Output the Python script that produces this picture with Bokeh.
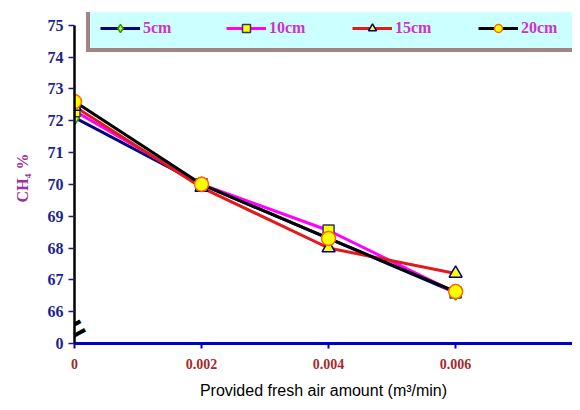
from bokeh.plotting import figure
from bokeh.models import Range1d, Legend, LegendItem, Label, FixedTicker
from bokeh.embed import file_html
from bokeh.resources import INLINE

# ---- data ----
air = [0, 0.002, 0.004, 0.006]
ch4_5cm = [72.1, 70.0, 68.3, 66.6]
ch4_10cm = [72.3, 70.0, 68.55, 66.6]
ch4_15cm = [72.45, 69.9, 68.0, 67.2]
ch4_20cm = [72.6, 70.0, 68.3, 66.63]
series_names = ["5cm", "10cm", "15cm", "20cm"]
x_ticks = [0, 0.002, 0.004, 0.006]
x_tick_labels = ["0", "0.002", "0.004", "0.006"]
y_ticks = [65, 66, 67, 68, 69, 70, 71, 72, 73, 74, 75]
y_tick_labels = ["0", "66", "67", "68", "69", "70", "71", "72", "73", "74", "75"]

p = figure(width=572, height=402, output_backend="svg", toolbar_location=None,
           x_range=Range1d(0, 0.00784), y_range=Range1d(65, 75.4),
           min_border_left=74, min_border_top=12, min_border_bottom=59,
           min_border_right=0)
p.outline_line_color = None
p.xgrid.grid_line_color = None
p.ygrid.grid_line_color = None
p.background_fill_color = "white"

serif = "Liberation Serif"

# y axis
ya = p.yaxis[0]
ya.ticker = FixedTicker(ticks=y_ticks)
ya.major_label_overrides = {t: l for t, l in zip(y_ticks, y_tick_labels)}
ya.bounds = (65, 75)
ya.axis_line_color = "black"
ya.axis_line_width = 2.5
ya.major_tick_line_color = "#1a1a80"
ya.major_tick_line_width = 1.5
ya.major_tick_out = 6
ya.major_tick_in = 0
ya.minor_tick_line_color = None
ya.major_label_text_font = serif
ya.major_label_text_font_style = "bold"
ya.major_label_text_font_size = "16px"
ya.major_label_text_color = "#1f1f8f"
ya.axis_label = "CH\u2084 %"
ya.axis_label_text_font = serif
ya.axis_label_text_font_style = "bold"
ya.axis_label_text_font_size = "16px"
ya.axis_label_text_color = "#993399"
ya.axis_label_standoff = 14

# x axis
xa = p.xaxis[0]
xa.ticker = FixedTicker(ticks=x_ticks)
xa.major_label_overrides = {t: l for t, l in zip(x_ticks, x_tick_labels)}
xa.axis_line_color = "#0000cc"
xa.axis_line_width = 3
xa.major_tick_line_color = "#0000cc"
xa.major_tick_line_width = 2
xa.major_tick_out = 5
xa.major_tick_in = 0
xa.minor_tick_line_color = None
xa.major_label_text_font = serif
xa.major_label_text_font_style = "bold"
xa.major_label_text_font_size = "14px"
xa.major_label_text_color = "#a52a2a"
xa.major_label_standoff = 10
xa.axis_label = "Provided fresh air amount (m\u00b3/min)"
xa.axis_label_text_font = "Liberation Sans"
xa.axis_label_text_font_style = "normal"
xa.axis_label_text_font_size = "16px"
xa.axis_label_text_color = "black"
xa.axis_label_standoff = 10

# series
r1l = p.line(air, ch4_5cm, line_color="#000080", line_width=3)
r1m = p.scatter(air, ch4_5cm, marker="diamond", size=15, fill_color="#ccff33",
                line_color="#339900", line_width=1.5)
r2l = p.line(air, ch4_10cm, line_color="#ff00ff", line_width=3)
r2m = p.scatter(air, ch4_10cm, marker="square", size=11, fill_color="#ffff00",
                line_color="#333366", line_width=1.5)
r3l = p.line(air, ch4_15cm, line_color="#e31a1c", line_width=3)
r3m = p.scatter(air, ch4_15cm, marker="triangle", size=13, fill_color="#ffff00",
                line_color="#000080", line_width=1.5)
r4l = p.line(air, ch4_20cm, line_color="black", line_width=3)
r4m = p.scatter(air, ch4_20cm, marker="circle", size=14, fill_color="#ffff00",
                line_color="#ff6600", line_width=1.5)

items = [LegendItem(label=series_names[0], renderers=[r1l, r1m]),
         LegendItem(label=series_names[1], renderers=[r2l, r2m]),
         LegendItem(label=series_names[2], renderers=[r3l, r3m]),
         LegendItem(label=series_names[3], renderers=[r4l, r4m])]
legend = Legend(items=items, orientation="horizontal", location=(12, 291),
                background_fill_color="#ccffff", background_fill_alpha=1,
                border_line_color="#7a0a0a", border_line_width=4,
                label_text_font=serif, label_text_font_style="bold",
                label_text_font_size="16px", label_text_color="#cc33cc",
                glyph_width=40, glyph_height=20, label_standoff=3,
                label_width=80, spacing=3, padding=10, margin=0)
p.add_layout(legend, "center")

# axis break mark
p.add_layout(Label(x=0, y=65.45, text="=", text_font_size="36px",
                   text_font_style="bold", text_color="black",
                   text_align="center", text_baseline="middle", angle=0.5))

open("out.html", "w").write(file_html(p, INLINE))
